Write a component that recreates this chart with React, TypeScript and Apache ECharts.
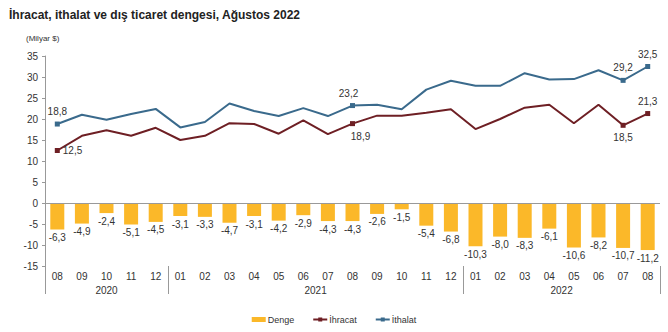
import React, { useEffect, useRef } from "react";
import * as echarts from "echarts";

const categories = [
  "2020-08", "2020-09", "2020-10", "2020-11", "2020-12",
  "2021-01", "2021-02", "2021-03", "2021-04", "2021-05", "2021-06", "2021-07", "2021-08", "2021-09", "2021-10", "2021-11", "2021-12",
  "2022-01", "2022-02", "2022-03", "2022-04", "2022-05", "2022-06", "2022-07", "2022-08",
];
const years = ["2020", "2021", "2022"];
const denge = [-6.3, -4.9, -2.4, -5.1, -4.5, -3.1, -3.3, -4.7, -3.1, -4.2, -2.9, -4.3, -4.3, -2.6, -1.5, -5.4, -6.8, -10.3, -8.0, -8.3, -6.1, -10.6, -8.2, -10.7, -11.2];
const ihracat = [12.5, 16.0, 17.3, 16.0, 17.9, 15.0, 16.0, 19.0, 18.8, 16.5, 19.7, 16.4, 18.9, 20.8, 20.8, 21.5, 22.3, 17.6, 20.0, 22.7, 23.4, 19.0, 23.4, 18.5, 21.3];
const ithalat = [18.8, 21.0, 19.8, 21.2, 22.4, 18.0, 19.3, 23.7, 21.9, 20.7, 22.6, 20.7, 23.2, 23.4, 22.3, 27.0, 29.1, 27.9, 27.9, 30.9, 29.4, 29.5, 31.6, 29.2, 32.5];
const yTicks = { min: -15, max: 35, interval: 5 };

// labelled points: index -> label position
const ihracatLabels: Record<number, string> = { 0: "right", 12: "bottom", 23: "bottom", 24: "top" };
const ithalatLabels: Record<number, string> = { 0: "top", 12: "top", 23: "top", 24: "top" };

const FONT = "'Liberation Sans', Arial, sans-serif";
const fmt = (v: number) => v.toFixed(1).replace(".", ",");

function lineData(values: number[], labels: Record<number, string>) {
  return values.map((v, i) => {
    const pos = labels[i];
    if (pos) {
      return {
        value: v,
        symbol: "rect",
        symbolSize: 5,
        label: { show: true, position: pos, formatter: () => fmt(v), distance: pos === "right" ? 3 : 5, offset: pos === "bottom" && i === 12 ? [8, 0] : pos === "top" && i === 12 ? [-4, 0] : [0, 0] },
      };
    }
    return { value: v, symbol: "none" };
  });
}

export default function App() {
  const ref = useRef<HTMLDivElement>(null);
  useEffect(() => {
    if (!ref.current) return;
    const chart = echarts.init(ref.current, null, { renderer: "svg" });

    // year boundaries from categories
    const bounds: number[] = [0];
    const centers: number[] = [];
    years.forEach((y) => {
      const start = categories.findIndex((c) => c.startsWith(y));
      let end = start;
      while (end < categories.length && categories[end].startsWith(y)) end++;
      centers.push((start + end) / 2);
      bounds.push(end);
    });

    chart.setOption({
      animation: false,
      textStyle: { fontFamily: FONT },
      title: [
        {
          text: "İhracat, ithalat ve dış ticaret dengesi, Ağustos 2022",
          left: 4,
          top: 4,
          textStyle: { fontSize: 12, fontWeight: "bold", color: "#222", fontFamily: FONT },
        },
        {
          text: "(Milyar $)",
          left: 21,
          top: 29,
          textStyle: { fontSize: 8, fontWeight: "normal", color: "#333", fontFamily: FONT },
        },
      ],
      legend: {
        bottom: 3,
        left: "center",
        itemWidth: 14,
        itemHeight: 5,
        itemGap: 18,
        textStyle: { fontSize: 9, color: "#333", fontFamily: FONT, padding: [0, 0, 0, -3] },
        data: [
          { name: "Denge", icon: "rect", itemStyle: { color: "#FBB829" } },
          { name: "İhracat" },
          { name: "İthalat" },
        ],
      },
      grid: { left: 45, right: 8, top: 56, bottom: 66 },
      xAxis: [
        {
          type: "category",
          data: categories,
          position: "bottom",
          axisLine: { show: false, onZero: false },
          axisTick: { show: false },
          axisLabel: {
            formatter: (v: string) => v.slice(5),
            fontSize: 10,
            color: "#333",
            margin: 5,
            interval: 0,
          },
        },
        {
          type: "value",
          min: 0,
          max: categories.length,
          position: "bottom",
          splitLine: { show: false },
          axisLine: { show: false, onZero: false },
          axisTick: { show: true, customValues: bounds, length: 28, lineStyle: { color: "#999" } },
          axisLabel: {
            customValues: centers,
            formatter: (v: number) => years[centers.indexOf(v)] ?? "",
            fontSize: 10,
            color: "#333",
            margin: 19,
          },
        },
      ],
      yAxis: {
        type: "value",
        min: yTicks.min,
        max: yTicks.max,
        interval: yTicks.interval,
        splitLine: { show: false },
        axisLine: { show: true, onZero: false, lineStyle: { color: "#999" } },
        axisTick: { show: true, length: 3, lineStyle: { color: "#999" } },
        axisLabel: { fontSize: 10, color: "#333", margin: 7 },
      },
      series: [
        {
          name: "Denge",
          type: "bar",
          xAxisIndex: 0,
          data: denge,
          barWidth: 14,
          itemStyle: { color: "#FBB829" },
          label: {
            show: true,
            position: "bottom",
            distance: 3,
            fontSize: 10,
            color: "#333",
            formatter: (p: any) => fmt(p.value),
          },
          markLine: {
            silent: true,
            symbol: "none",
            label: { show: false },
            lineStyle: { color: "#999", type: "solid", width: 1 },
            data: [{ yAxis: 0 }],
          },
        },
        {
          name: "İhracat",
          type: "line",
          xAxisIndex: 0,
          data: lineData(ihracat, ihracatLabels),
          symbol: "rect",
          symbolSize: 5,
          showAllSymbol: true,
          lineStyle: { color: "#6E1F24", width: 2 },
          itemStyle: { color: "#6E1F24" },
          label: { fontSize: 10, color: "#333" },
          z: 3,
        },
        {
          name: "İthalat",
          type: "line",
          xAxisIndex: 0,
          data: lineData(ithalat, ithalatLabels),
          symbol: "rect",
          symbolSize: 5,
          showAllSymbol: true,
          lineStyle: { color: "#3A6A8C", width: 2 },
          itemStyle: { color: "#3A6A8C" },
          label: { fontSize: 10, color: "#333" },
          z: 3,
        },
      ],
    });
    return () => chart.dispose();
  }, []);
  return <div ref={ref} style={{ width: 668, height: 332, position: "absolute", left: 0, top: 0 }} />;
}
